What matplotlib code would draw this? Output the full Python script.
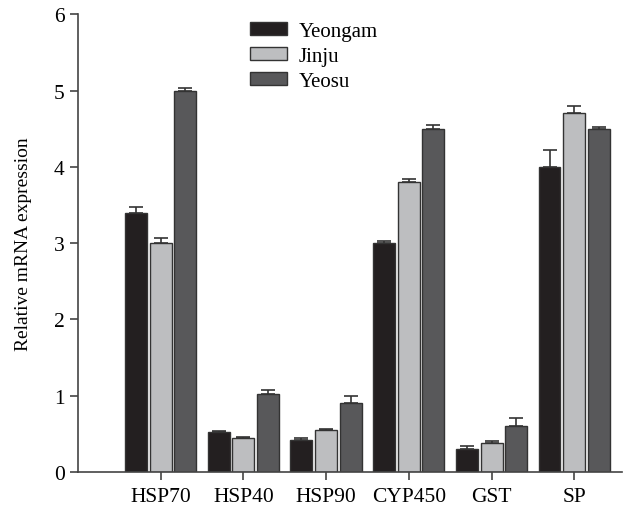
import numpy as np
import matplotlib
matplotlib.use('Agg')
import matplotlib.pyplot as plt

plt.rcParams['font.family'] = 'Liberation Serif'

genes = ['HSP70', 'HSP40', 'HSP90', 'CYP450', 'GST', 'SP']
sites = ['Yeongam', 'Jinju', 'Yeosu']

yeongam = [3.40, 0.52, 0.42, 3.00, 0.30, 4.00]
jinju = [3.00, 0.44, 0.55, 3.80, 0.38, 4.70]
yeosu = [5.00, 1.02, 0.90, 4.50, 0.60, 4.50]

yeongam_err = [0.07, 0.01, 0.02, 0.03, 0.04, 0.22]
jinju_err = [0.07, 0.01, 0.01, 0.04, 0.03, 0.10]
yeosu_err = [0.03, 0.05, 0.09, 0.05, 0.11, 0.02]

colors = ['#231f20', '#bdbec0', '#58585a']

fig = plt.figure(figsize=(6.24, 5.10), dpi=100)
ax = fig.add_axes([0.125, 0.073, 0.871, 0.897])

x = np.arange(len(genes))
w = 0.265
offsets = [-0.30, 0.0, 0.295]
for vals, errs, off, c, lab in zip([yeongam, jinju, yeosu],
                                   [yeongam_err, jinju_err, yeosu_err],
                                   offsets, colors, sites):
    ax.bar(x + off, vals, w, color=c, edgecolor='#333333', linewidth=1.0,
           label=lab, yerr=[np.zeros(len(errs)), errs],
           error_kw=dict(ecolor='#333333', elinewidth=1.2, capsize=5, capthick=1.2))

ax.set_xlim(-1.0, 5.57)
ax.set_ylim(0, 6)
ax.set_xticks(x)
ax.set_xticklabels(genes)
ax.set_yticks(range(7))
ax.set_ylabel('Relative mRNA expression', fontsize=14, labelpad=16)
ax.tick_params(labelsize=15.5, width=1.2, length=6, color='#444444')
ax.tick_params(axis='x', pad=5)
for s in ['top', 'right']:
    ax.spines[s].set_visible(False)
for s in ['left', 'bottom']:
    ax.spines[s].set_linewidth(1.2)
    ax.spines[s].set_color('#444444')

ax.legend(loc='upper left', bbox_to_anchor=(0.302, 1.002), frameon=False,
          borderaxespad=0, fontsize=15, handlelength=1.75, handleheight=0.6,
          handletextpad=0.55, labelspacing=0.3)

plt.savefig('out.png', dpi=100)
